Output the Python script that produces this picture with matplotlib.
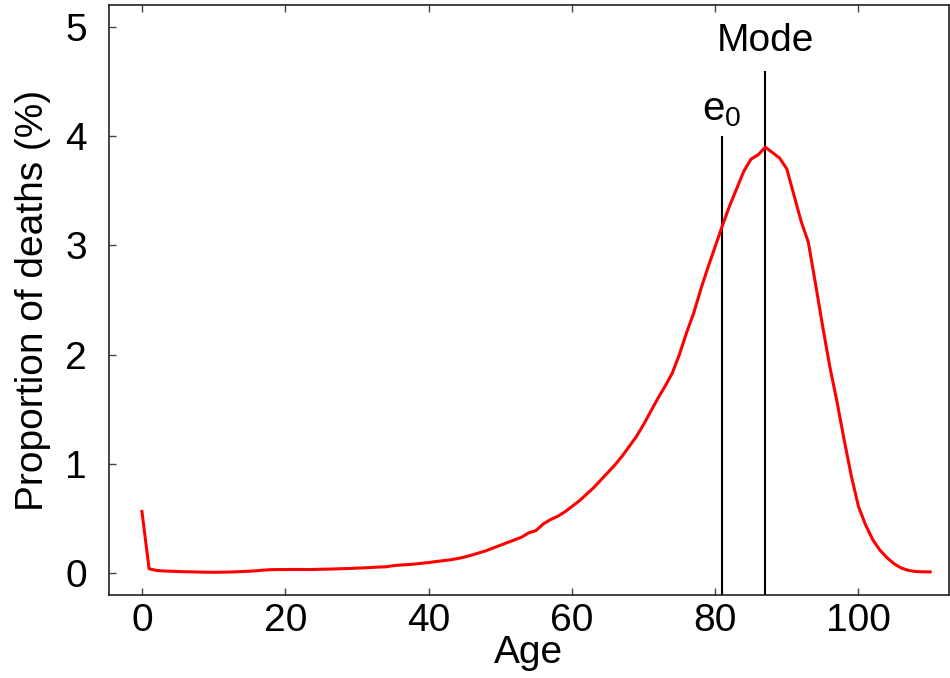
import matplotlib
matplotlib.use("Agg")
import matplotlib.pyplot as plt

plt.rcParams['font.family'] = ['Liberation Sans', 'DejaVu Sans']
plt.rcParams['mathtext.fontset'] = 'custom'
plt.rcParams['mathtext.rm'] = 'Liberation Sans'

ages = list(range(0, 111))
deaths_pct = [
    0.565, 0.04, 0.025, 0.02, 0.018, 0.015, 0.013, 0.012, 0.010, 0.009,
    0.008, 0.009, 0.010, 0.012, 0.015, 0.018, 0.022, 0.028, 0.032, 0.033,
    0.033, 0.034, 0.034, 0.033, 0.034, 0.036, 0.037, 0.039, 0.041, 0.043,
    0.046, 0.049, 0.052, 0.056, 0.058, 0.068, 0.074, 0.078, 0.083, 0.090,
    0.097, 0.106, 0.114, 0.122, 0.133, 0.147, 0.165, 0.185, 0.205, 0.230,
    0.255, 0.28, 0.305, 0.33, 0.37, 0.39, 0.45, 0.49, 0.52, 0.56,
    0.61, 0.66, 0.72, 0.78, 0.85, 0.92, 0.99, 1.07, 1.16, 1.25,
    1.36, 1.48, 1.60, 1.71, 1.83, 2.00, 2.20, 2.38, 2.60, 2.80,
    2.99, 3.18, 3.36, 3.52, 3.68, 3.79, 3.83, 3.90, 3.85, 3.80,
    3.70, 3.46, 3.22, 3.03, 2.65, 2.26, 1.89, 1.57, 1.22, 0.89,
    0.61, 0.44, 0.305, 0.21, 0.14, 0.085, 0.046, 0.025, 0.015, 0.012,
    0.012,
]

e0_age = 80.9
e0_top = 4.0
mode_age = 87.0
mode_top = 4.6

xticks = [0, 20, 40, 60, 80, 100]
yticks = [0, 1, 2, 3, 4, 5]

fig = plt.figure(figsize=(9.5, 6.78), dpi=100)
ax = fig.add_axes([0.1147, 0.1224, 0.884, 0.870])

ax.plot(ages, deaths_pct, color='#ff0000', lw=2.2, zorder=3)

ymin, ymax = -0.2, 5.2
ax.vlines([e0_age], ymin, e0_top, color='black', lw=1.5, zorder=2)
ax.vlines([mode_age], ymin, mode_top, color='black', lw=1.5, zorder=2)

ax.text(e0_age, e0_top + 0.07, r'$\mathregular{e_0}$', ha='center', va='bottom', fontsize=29)
ax.text(mode_age, mode_top + 0.11, 'Mode', ha='center', va='bottom', fontsize=28)

ax.set_xlim(-4.6, 112.6)
ax.set_ylim(ymin, ymax)
ax.set_xticks(xticks)
ax.set_yticks(yticks)
ax.tick_params(direction='in', length=5, width=1, color='#444444', labelsize=28,
               top=True, right=False)
ax.tick_params(axis='x', pad=6)
ax.tick_params(axis='y', pad=16)
for s in ax.spines.values():
    s.set_linewidth(1.2)
    s.set_color('#222222')

ax.set_xlabel('Age', fontsize=28, labelpad=-3)
ax.set_ylabel('Proportion of deaths (%)', fontsize=28, labelpad=10)

fig.savefig('out.png', dpi=100)
